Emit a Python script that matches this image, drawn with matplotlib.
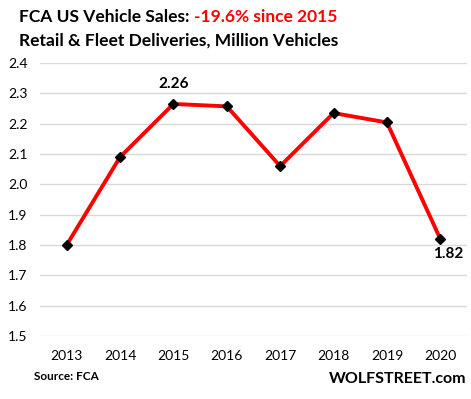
import matplotlib.pyplot as plt

years = ['2013', '2014', '2015', '2016', '2017', '2018', '2019', '2020']
sales = [1.80, 2.09, 2.265, 2.257, 2.06, 2.235, 2.204, 1.82]
y_ticks = [1.5, 1.6, 1.7, 1.8, 1.9, 2.0, 2.1, 2.2, 2.3, 2.4]

plt.rcParams['font.family'] = ['Lato', 'DejaVu Sans']

fig = plt.figure(figsize=(4.71, 3.99), dpi=100)
ax = fig.add_axes([40 / 471, 1 - 336 / 399, 427 / 471, 273 / 399])

x = list(range(len(years)))
ax.plot(x, sales, color='#ff0000', lw=2.8, zorder=3)
ax.plot(x, sales, ls='none', marker='D', ms=5, color='black', zorder=4)

ax.set_xlim(-0.5, len(years) - 0.5)
ax.set_ylim(1.5, 2.4)
ax.set_yticks(y_ticks)
ax.set_yticklabels([f'{v:.1f}' for v in y_ticks], fontsize=10)
ax.set_xticks(x)
ax.set_xticklabels(years, fontsize=10)
ax.grid(axis='y', color='#d9d9d9', lw=1)
ax.set_axisbelow(True)
for s in ax.spines.values():
    s.set_visible(False)
ax.tick_params(length=0, pad=10)
ax.tick_params(axis='y', pad=9)

# value labels
ax.annotate('2.26', (2, sales[2]), xytext=(0, 9), textcoords='offset points',
            ha='center', va='bottom', fontsize=11, fontweight='bold')
ax.annotate('1.82', (7, sales[7]), xytext=(6, -6), textcoords='offset points',
            ha='center', va='top', fontsize=11, fontweight='bold')

# titles
fig.text(19 / 471, 1 - 17 / 399, 'FCA US Vehicle Sales: ', fontsize=12.5,
         fontweight='bold', va='center', ha='left')
t = fig.text(19 / 471, 1 - 17 / 399, 'FCA US Vehicle Sales: ', fontsize=12.5,
             fontweight='bold', va='center', ha='left', alpha=0)
fig.canvas.draw()
bb = t.get_window_extent()
fig.text(bb.x1 / fig.bbox.width, 1 - 17 / 399, '-19.6% since 2015', fontsize=12.5,
         fontweight='bold', va='center', ha='left', color='#ff0000')
fig.text(19 / 471, 1 - 41 / 399, 'Retail & Fleet Deliveries, Million Vehicles',
         fontsize=12.5, fontweight='bold', va='center', ha='left')

fig.text(34 / 471, 1 - 377 / 399, 'Source: FCA', fontsize=8.5,
         fontweight='bold', va='center', ha='left')
fig.text(466 / 471, 1 - 379 / 399, 'WOLFSTREET.com', fontsize=11.5,
         fontweight='bold', va='center', ha='right')

fig.savefig('out.png', dpi=100)
